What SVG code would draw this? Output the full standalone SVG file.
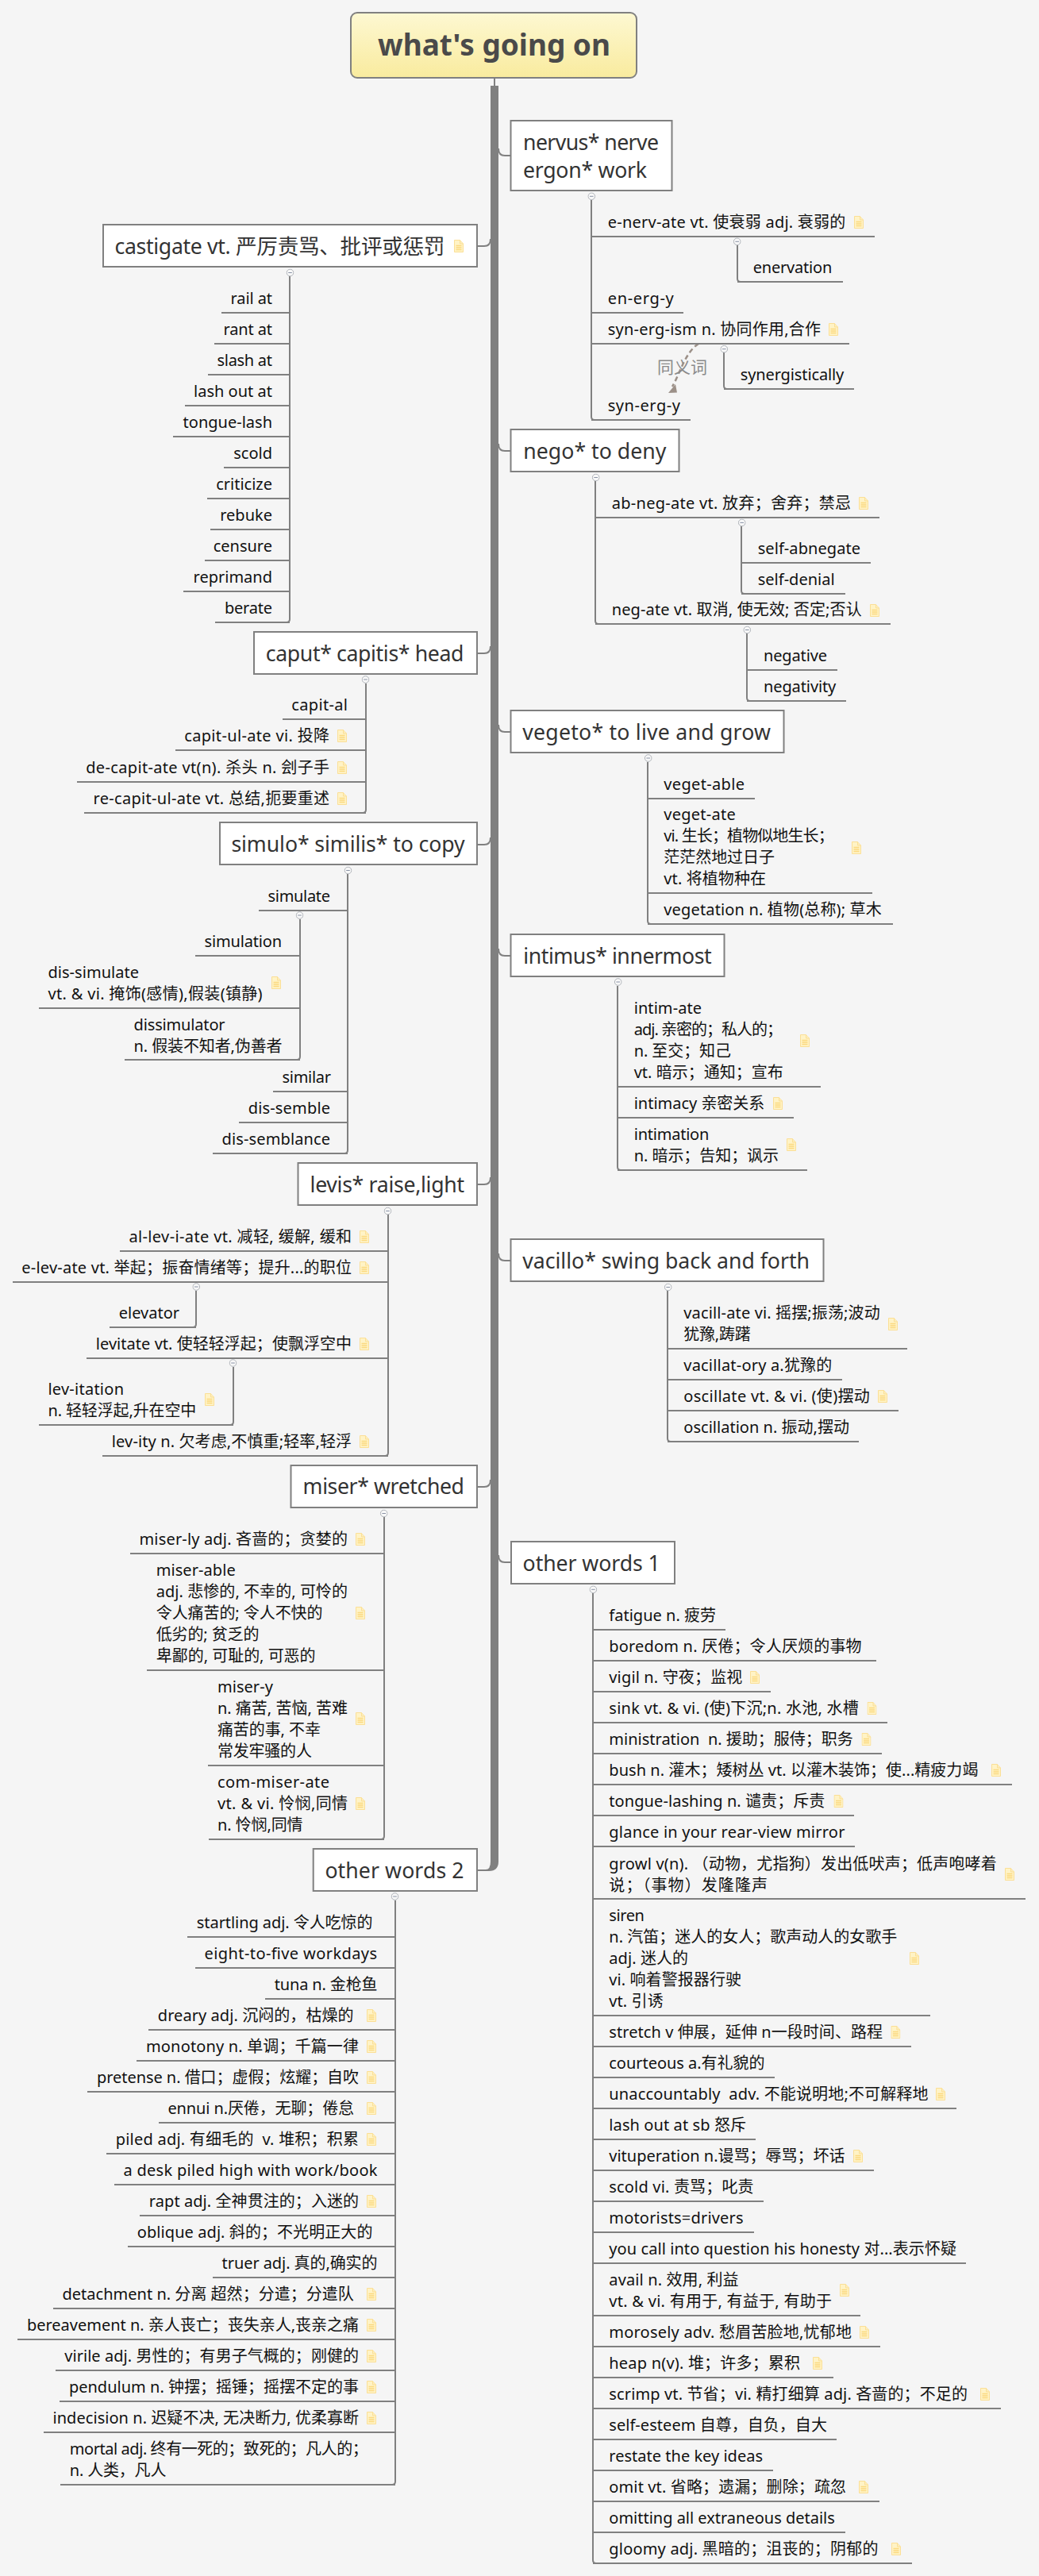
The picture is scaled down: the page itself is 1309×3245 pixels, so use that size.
<svg xmlns="http://www.w3.org/2000/svg" width="1309" height="3245" viewBox="0 0 1309 3245">
<style>
text{font-family:"Noto Sans","Noto Sans CJK SC",sans-serif;white-space:pre}
.s{font-size:20px;fill:#111}
.e{text-anchor:end}
.m{font-size:26.670px;fill:#333}
.r{font-size:37px;font-weight:700;fill:#4a4a4a}
.b{fill:#fff;stroke:#808080;stroke-width:2}
.u{fill:none;stroke:#808080;stroke-width:2}
.l{fill:none;stroke:#808080;stroke-width:2}
.p{fill:#808080}
</style>
<defs>
<linearGradient id="rootFill" x1="0" y1="0" x2="0" y2="1"><stop offset="0" stop-color="#fdf8d2"/><stop offset="1" stop-color="#f9eb9e"/></linearGradient>
<symbol id="note" viewBox="0 0 12 16" width="12" height="16"><path d="M.5 .5H7.5L11.5 5V15.5H.5Z" fill="#fff3c6" stroke="#fbdf96"/><path d="M7.5 .5V5H11.5" fill="#fdeebc" stroke="#fbdf96"/><path d="M2.5 7.5H9.5M2.5 10H9.5M2.5 12.500H9.5" stroke="#fbd980" stroke-width="1.300"/></symbol>
<symbol id="col" viewBox="0 0 10 10" width="10" height="10"><circle cx="5" cy="5" r="4.300" fill="#f8f8f8" stroke="#aeb2b8"/><path d="M2.700 5H7.300" stroke="#8a93a6"/></symbol>
</defs>
<rect width="1309" height="3245" fill="#f5f5f5"/>
<g id="connectors">
<path class="l" d="M623 98V108"/>
<path class="p" d="M618 108H628V2345Q628 2357 616 2357H601V2355H612Q618 2355 618 2345Z"/>
<path class="l" d="M601 310H610Q618 310 618 301"/>
<path class="l" d="M601 823H610Q618 823 618 814"/>
<path class="l" d="M601 1064H610Q618 1064 618 1055"/>
<path class="l" d="M601 1492H610Q618 1492 618 1483"/>
<path class="l" d="M601 1873H610Q618 1873 618 1864"/>
<path class="l" d="M643 196H636Q628 196 628 187"/>
<path class="l" d="M643 568H636Q628 568 628 559"/>
<path class="l" d="M643 922H636Q628 922 628 913"/>
<path class="l" d="M643 1204H636Q628 1204 628 1195"/>
<path class="l" d="M643 1588H636Q628 1588 628 1579"/>
<path class="l" d="M643 1968H636Q628 1968 628 1959"/>
<path class="l" d="M365 348V780Q365 784 361 784"/>
<path class="l" d="M461 861V1020Q461 1024 457 1024"/>
<path class="l" d="M438 1101V1449Q438 1453 434 1453"/>
<path class="l" d="M378 1158V1331Q378 1335 374 1335"/>
<path class="l" d="M489 1530V1830Q489 1834 485 1834"/>
<path class="l" d="M247 1626V1668Q247 1672 243 1672"/>
<path class="l" d="M294 1722V1791Q294 1795 290 1795"/>
<path class="l" d="M484 1911V2313Q484 2317 480 2317"/>
<path class="l" d="M498 2394V3126Q498 3130 494 3130"/>
<path class="l" d="M745 252V525Q745 529 749 529"/>
<path class="l" d="M929 309V351Q929 355 933 355"/>
<path class="l" d="M912 444V486Q912 490 916 490"/>
<path class="l" d="M750 606V782Q750 786 754 786"/>
<path class="l" d="M934 663V744Q934 748 938 748"/>
<path class="l" d="M941 798V879Q941 883 945 883"/>
<path class="l" d="M816 960V1160Q816 1164 820 1164"/>
<path class="l" d="M778 1242V1470Q778 1474 782 1474"/>
<path class="l" d="M841 1626V1812Q841 1816 845 1816"/>
<path class="l" d="M747 2007V3225Q747 3229 751 3229"/>
<use href="#col" x="360.500" y="338.500"/><use href="#col" x="455.500" y="851"/><use href="#col" x="433.500" y="1091.500"/><use href="#col" x="372.500" y="1148"/><use href="#col" x="483.500" y="1520.500"/><use href="#col" x="242.300" y="1616"/><use href="#col" x="288.500" y="1712"/><use href="#col" x="478.700" y="1901.500"/><use href="#col" x="492.500" y="2384"/>
<use href="#col" x="740.300" y="242.300"/><use href="#col" x="923.700" y="299.300"/><use href="#col" x="907.300" y="434.700"/><use href="#col" x="745.700" y="596.500"/><use href="#col" x="929.700" y="653.400"/><use href="#col" x="936.300" y="788.500"/><use href="#col" x="811.700" y="950"/><use href="#col" x="773.700" y="1232"/><use href="#col" x="836.700" y="1616.500"/><use href="#col" x="742.400" y="1997.300"/>
<path d="M880 433C863 444 857 470 847 487" fill="none" stroke="#9c9088" stroke-width="2.500" stroke-dasharray="6 4"/>
<polygon points="842,495 853,494.500 851,484" fill="#9c9088"/>
<text x="828" y="470" style="font-size:21px;fill:#8a8a8a">同义词</text>
</g>
<g id="root"><rect x="442" y="16" width="360" height="82" rx="8" fill="url(#rootFill)" stroke="#808080" stroke-width="2"/><text class="r" x="476" y="70" textLength="293">what's going on</text></g>

<g id="castigate"><rect class="b" x="130" y="283" width="471" height="53"/><text class="m" x="144.500" y="320" textLength="416">castigate vt. 严厉责骂、批评或惩罚</text><use href="#note" x="572" y="302"/></g>
<g id="c1"><path class="u" d="M279 394H365"/><text class="s e" x="343" y="383" textLength="52.500">rail at</text></g>
<g id="c2"><path class="u" d="M270 433H365"/><text class="s e" x="343" y="422" textLength="61.500">rant at</text></g>
<g id="c3"><path class="u" d="M262 472H365"/><text class="s e" x="343" y="461" textLength="69.500">slash at</text></g>
<g id="c4"><path class="u" d="M233 511H365"/><text class="s e" x="343" y="500" textLength="99">lash out at</text></g>
<g id="c5"><path class="u" d="M218 550H365"/><text class="s e" x="343" y="539">tongue-lash</text></g>
<g id="c6"><path class="u" d="M282 589H365"/><text class="s e" x="343" y="578">scold</text></g>
<g id="c7"><path class="u" d="M261 628H365"/><text class="s e" x="343" y="617">criticize</text></g>
<g id="c8"><path class="u" d="M265 667H365"/><text class="s e" x="343" y="656">rebuke</text></g>
<g id="c9"><path class="u" d="M258 706H365"/><text class="s e" x="343" y="695">censure</text></g>
<g id="c10"><path class="u" d="M231 745H365"/><text class="s e" x="343" y="734">reprimand</text></g>
<g id="c11"><path class="u" d="M271 784H365"/><text class="s e" x="343" y="773" textLength="60">berate</text></g>

<g id="caput"><rect class="b" x="320" y="796" width="281" height="53"/><text class="m" x="334.700" y="833" textLength="249.800">caput* capitis* head</text></g>
<g id="ca1"><path class="u" d="M356 906H461"/><text class="s e" x="438" y="895" textLength="70.700">capit-al</text></g>
<g id="ca2"><path class="u" d="M221 945H461"/><text class="s e" x="415" y="934" textLength="182.800">capit-ul-ate vi. 投降</text><use href="#note" x="425" y="919"/></g>
<g id="ca3"><path class="u" d="M97 985H461"/><text class="s e" x="415" y="974" textLength="306.800">de-capit-ate vt(n). 杀头 n. 刽子手</text><use href="#note" x="425" y="959"/></g>
<g id="ca4"><path class="u" d="M106 1024H461"/><text class="s e" x="415" y="1013" textLength="297.400">re-capit-ul-ate vt. 总结,扼要重述</text><use href="#note" x="425" y="998"/></g>

<g id="simulo"><rect class="b" x="277" y="1036" width="324" height="53"/><text class="m" x="291.400" y="1073" textLength="294.300">simulo* similis* to copy</text></g>
<g id="si1"><path class="u" d="M326 1147H438"/><text class="s e" x="416" y="1136" textLength="78.400">simulate</text></g>
<g id="si2"><path class="u" d="M246 1204H378"/><text class="s e" x="355" y="1193" textLength="97.400">simulation</text></g>
<g id="si3"><path class="u" d="M49 1270H378"/><text class="s" x="60.400" y="1232"><tspan textLength="114.700">dis-simulate</tspan><tspan x="60.400" y="1259" textLength="270.200">vt. &amp; vi. 掩饰(感情),假装(镇静)</tspan></text><use href="#note" x="342" y="1230"/></g>
<g id="si4"><path class="u" d="M157 1335H378"/><text class="s" x="168.600" y="1298"><tspan textLength="115">dissimulator</tspan><tspan x="168.600" y="1325" textLength="187">n. 假装不知者,伪善者</tspan></text></g>
<g id="si5"><path class="u" d="M344 1375H438"/><text class="s e" x="417" y="1364" textLength="61.500">similar</text></g>
<g id="si6"><path class="u" d="M301 1414H438"/><text class="s e" x="416" y="1403" textLength="103.300">dis-semble</text></g>
<g id="si7"><path class="u" d="M268 1453H438"/><text class="s e" x="416" y="1442" textLength="136.400">dis-semblance</text></g>

<g id="levis"><rect class="b" x="375.500" y="1465" width="225.500" height="53"/><text class="m" x="390.600" y="1502" textLength="194.400">levis* raise,light</text></g>
<g id="le1"><path class="u" d="M151 1576H489"/><text class="s e" x="443" y="1565" textLength="280.600">al-lev-i-ate vt. 减轻, 缓解, 缓和</text><use href="#note" x="453" y="1550"/></g>
<g id="le2"><path class="u" d="M16 1615H489"/><text class="s e" x="443" y="1604" textLength="415.700">e-lev-ate vt. 举起；振奋情绪等；提升...的职位</text><use href="#note" x="453" y="1589"/></g>
<g id="le3"><path class="u" d="M138 1672H247"/><text class="s e" x="226" y="1661" textLength="76.300">elevator</text></g>
<g id="le4"><path class="u" d="M109 1711H489"/><text class="s e" x="443" y="1700" textLength="322.200">levitate vt. 使轻轻浮起；使飘浮空中</text><use href="#note" x="453" y="1685"/></g>
<g id="le5"><path class="u" d="M49 1795H294"/><text class="s" x="60.400" y="1757"><tspan textLength="95.600">lev-itation</tspan><tspan x="60.400" y="1784" textLength="186.900">n. 轻轻浮起,升在空中</tspan></text><use href="#note" x="258" y="1755"/></g>
<g id="le6"><path class="u" d="M129 1834H489"/><text class="s e" x="443" y="1823" textLength="302.200">lev-ity n. 欠考虑,不慎重;轻率,轻浮</text><use href="#note" x="453" y="1808"/></g>

<g id="miser"><rect class="b" x="366.500" y="1846" width="234.500" height="53"/><text class="m" x="381.600" y="1882" textLength="203.400">miser* wretched</text></g>
<g id="mi1"><path class="u" d="M164 1957H484"/><text class="s e" x="438" y="1946" textLength="262.500">miser-ly adj. 吝啬的；贪婪的</text><use href="#note" x="448" y="1931"/></g>
<g id="mi2"><path class="u" d="M185 2104H484"/><text class="s" x="196.700" y="1985"><tspan textLength="100">miser-able</tspan><tspan x="196.700" y="2012" textLength="241.300">adj. 悲惨的, 不幸的, 可怜的</tspan><tspan x="196.700" y="2039" textLength="209.800">令人痛苦的; 令人不快的</tspan><tspan x="196.700" y="2066" textLength="129.800">低劣的; 贫乏的</tspan><tspan x="196.700" y="2093" textLength="200.900">卑鄙的, 可耻的, 可恶的</tspan></text><use href="#note" x="448" y="2024"/></g>
<g id="mi3"><path class="u" d="M262 2224H484"/><text class="s" x="273.900" y="2132"><tspan textLength="70">miser-y</tspan><tspan x="273.900" y="2159" textLength="164.100">n. 痛苦, 苦恼, 苦难</tspan><tspan x="273.900" y="2186" textLength="130">痛苦的事, 不幸</tspan><tspan x="273.900" y="2213" textLength="119">常发牢骚的人</tspan></text><use href="#note" x="448" y="2157"/></g>
<g id="mi4"><path class="u" d="M263 2317H484"/><text class="s" x="274" y="2252"><tspan textLength="141">com-miser-ate</tspan><tspan x="274" y="2279" textLength="164">vt. &amp; vi. 怜悯,同情</tspan><tspan x="274" y="2306" textLength="107.600">n. 怜悯,同情</tspan></text><use href="#note" x="448" y="2264"/></g>

<g id="other2"><rect class="b" x="394.700" y="2329" width="206.300" height="53"/><text class="m" x="409.400" y="2366" textLength="175.100">other words 2</text></g>
<g id="o2-1"><path class="u" d="M236 2440H498"/><text class="s e" x="469.400" y="2429" textLength="221.600">startling adj. 令人吃惊的</text></g>
<g id="o2-2"><path class="u" d="M246 2479H498"/><text class="s e" x="475" y="2468" textLength="217.400">eight-to-five workdays</text></g>
<g id="o2-3"><path class="u" d="M334 2518H498"/><text class="s e" x="475.500" y="2507" textLength="129.800">tuna n. 金枪鱼</text></g>
<g id="o2-4"><path class="u" d="M187 2557H498"/><text class="s e" x="445.500" y="2546" textLength="246.700">dreary adj. 沉闷的，枯燥的</text><use href="#note" x="462" y="2531"/></g>
<g id="o2-5"><path class="u" d="M172 2596H498"/><text class="s e" x="452" y="2585" textLength="268">monotony n. 单调；千篇一律</text><use href="#note" x="462" y="2570"/></g>
<g id="o2-6"><path class="u" d="M110 2635H498"/><text class="s e" x="452" y="2624" textLength="330">pretense n. 借口；虚假；炫耀；自吹</text><use href="#note" x="462" y="2609"/></g>
<g id="o2-7"><path class="u" d="M200 2674H498"/><text class="s e" x="446" y="2663" textLength="234.600">ennui n.厌倦，无聊；倦怠</text><use href="#note" x="462" y="2648"/></g>
<g id="o2-8"><path class="u" d="M134 2713H498"/><text class="s e" x="452" y="2702" textLength="306.300">piled adj. 有细毛的  v. 堆积；积累</text><use href="#note" x="462" y="2687"/></g>
<g id="o2-9"><path class="u" d="M144 2752H498"/><text class="s e" x="475.500" y="2741" textLength="320">a desk piled high with work/book</text></g>
<g id="o2-10"><path class="u" d="M176 2791H498"/><text class="s e" x="452" y="2780" textLength="264.200">rapt adj. 全神贯注的；入迷的</text><use href="#note" x="462" y="2765"/></g>
<g id="o2-11"><path class="u" d="M161 2830H498"/><text class="s e" x="469.400" y="2819" textLength="296.700">oblique adj. 斜的；不光明正大的</text></g>
<g id="o2-12"><path class="u" d="M268 2869H498"/><text class="s e" x="475.500" y="2858" textLength="195.900">truer adj. 真的,确实的</text></g>
<g id="o2-13"><path class="u" d="M67 2908H498"/><text class="s e" x="445.700" y="2897" textLength="367.300">detachment n. 分离 超然；分遣；分遣队</text><use href="#note" x="462" y="2882"/></g>
<g id="o2-14"><path class="u" d="M22 2947H498"/><text class="s e" x="452" y="2936" textLength="418.100">bereavement n. 亲人丧亡；丧失亲人,丧亲之痛</text><use href="#note" x="462" y="2921"/></g>
<g id="o2-15"><path class="u" d="M70 2986H498"/><text class="s e" x="452" y="2975" textLength="370.800">virile adj. 男性的；有男子气概的；刚健的</text><use href="#note" x="462" y="2960"/></g>
<g id="o2-16"><path class="u" d="M75 3025H498"/><text class="s e" x="452" y="3014" textLength="365.100">pendulum n. 钟摆；摇锤；摇摆不定的事</text><use href="#note" x="462" y="2999"/></g>
<g id="o2-17"><path class="u" d="M55 3064H498"/><text class="s e" x="452" y="3053" textLength="385.500">indecision n. 迟疑不决, 无决断力, 优柔寡断</text><use href="#note" x="462" y="3038"/></g>
<g id="o2-18"><path class="u" d="M76 3130H498"/><text class="s" x="87.800" y="3092"><tspan textLength="375.900">mortal adj. 终有一死的；致死的；凡人的；</tspan><tspan x="87.800" y="3119" textLength="121.600">n. 人类，凡人</tspan></text></g>

<g id="nervus"><rect class="b" x="643.500" y="152" width="203" height="88"/><text class="m" x="659" y="189"><tspan textLength="171">nervus* nerve</tspan><tspan x="659" y="224" textLength="156">ergon* work</tspan></text></g>
<g id="ne1"><path class="u" d="M745 298H1102"/><text class="s" x="765.700" y="287" textLength="299.600">e-nerv-ate vt. 使衰弱 adj. 衰弱的</text><use href="#note" x="1076" y="272"/></g>
<g id="ne2"><path class="u" d="M929 355H1062"/><text class="s" x="948.700" y="344" textLength="99.600">enervation</text></g>
<g id="ne3"><path class="u" d="M745 394H861"/><text class="s" x="765.700" y="383" textLength="83">en-erg-y</text></g>
<g id="ne4"><path class="u" d="M745 433H1070"/><text class="s" x="765.700" y="422" textLength="268.300">syn-erg-ism n. 协同作用,合作</text><use href="#note" x="1044" y="407"/></g>
<g id="ne5"><path class="u" d="M912 490H1076"/><text class="s" x="932.700" y="479" textLength="130.600">synergistically</text></g>
<g id="ne6"><path class="u" d="M745 529H870"/><text class="s" x="765.700" y="518" textLength="91.300">syn-erg-y</text></g>

<g id="nego"><rect class="b" x="643.500" y="541" width="212" height="53"/><text class="m" x="659.300" y="578" textLength="180">nego* to deny</text></g>
<g id="ng1"><path class="u" d="M750 652H1108"/><text class="s" x="770.700" y="641" textLength="301.300">ab-neg-ate vt. 放弃；舍弃；禁忌</text><use href="#note" x="1082" y="626"/></g>
<g id="ng2"><path class="u" d="M934 709H1097"/><text class="s" x="954.700" y="698" textLength="129.300">self-abnegate</text></g>
<g id="ng3"><path class="u" d="M934 748H1065"/><text class="s" x="954.700" y="737" textLength="97">self-denial</text></g>
<g id="ng4"><path class="u" d="M750 786H1122"/><text class="s" x="770.700" y="775" textLength="315">neg-ate vt. 取消, 使无效; 否定;否认</text><use href="#note" x="1096" y="761"/></g>
<g id="ng5"><path class="u" d="M941 844H1055"/><text class="s" x="962" y="833" textLength="80">negative</text></g>
<g id="ng6"><path class="u" d="M941 883H1066"/><text class="s" x="962" y="872" textLength="91.300">negativity</text></g>

<g id="vegeto"><rect class="b" x="643.500" y="895" width="344" height="53"/><text class="m" x="658.300" y="932" textLength="312.700">vegeto* to live and grow</text></g>
<g id="ve1"><path class="u" d="M816 1006H951"/><text class="s" x="836.300" y="995" textLength="101.700">veget-able</text></g>
<g id="ve2"><path class="u" d="M816 1125H1099"/><text class="s" x="836.300" y="1033"><tspan textLength="90.400">veget-ate</tspan><tspan x="836.300" y="1060" textLength="214.400">vi. 生长；植物似地生长；</tspan><tspan x="836.300" y="1087" textLength="139.700">茫茫然地过日子</tspan><tspan x="836.300" y="1114" textLength="128.700">vt. 将植物种在</tspan></text><use href="#note" x="1073" y="1060"/></g>
<g id="ve3"><path class="u" d="M816 1164H1125"/><text class="s" x="836.300" y="1153" textLength="274.400">vegetation n. 植物(总称); 草木</text></g>

<g id="intimus"><rect class="b" x="643.500" y="1177" width="269" height="53"/><text class="m" x="659.300" y="1214" textLength="237.400">intimus* innermost</text></g>
<g id="in1"><path class="u" d="M778 1369H1034"/><text class="s" x="798.700" y="1277"><tspan textLength="85.300">intim-ate</tspan><tspan x="798.700" y="1304" textLength="187.300">adj. 亲密的；私人的；</tspan><tspan x="798.700" y="1331" textLength="122.300">n. 至交；知己</tspan><tspan x="798.700" y="1358" textLength="188">vt. 暗示；通知；宣布</tspan></text><use href="#note" x="1008" y="1303"/></g>
<g id="in2"><path class="u" d="M778 1408H1000"/><text class="s" x="798.700" y="1397" textLength="164.600">intimacy 亲密关系</text><use href="#note" x="974" y="1382"/></g>
<g id="in3"><path class="u" d="M778 1474H1017"/><text class="s" x="798.700" y="1436"><tspan textLength="94.600">intimation</tspan><tspan x="798.700" y="1463" textLength="182.300">n. 暗示；告知；讽示</tspan></text><use href="#note" x="991" y="1434"/></g>

<g id="vacillo"><rect class="b" x="643.500" y="1561" width="394" height="53"/><text class="m" x="658.300" y="1598" textLength="361.700">vacillo* swing back and forth</text></g>
<g id="va1"><path class="u" d="M841 1699H1143"/><text class="s" x="861.300" y="1661"><tspan textLength="247.400">vacill-ate vi. 摇摆;振荡;波动</tspan><tspan x="861.300" y="1688" textLength="84.400">犹豫,踌躇</tspan></text><use href="#note" x="1119" y="1660"/></g>
<g id="va2"><path class="u" d="M841 1738H1061"/><text class="s" x="861.300" y="1727" textLength="187">vacillat-ory a.犹豫的</text></g>
<g id="va3"><path class="u" d="M841 1777H1132"/><text class="s" x="861.300" y="1766" textLength="234.400">oscillate vt. &amp; vi. (使)摆动</text><use href="#note" x="1106" y="1751"/></g>
<g id="va4"><path class="u" d="M841 1816H1082"/><text class="s" x="861.300" y="1805" textLength="208.700">oscillation n. 振动,摆动</text></g>

<g id="other1"><rect class="b" x="644" y="1942" width="206" height="53"/><text class="m" x="658.600" y="1979" textLength="173.200">other words 1</text></g>
<g id="o1-1"><path class="u" d="M747 2053H914"/><text class="s" x="767.300" y="2042" textLength="134.700">fatigue n. 疲劳</text></g>
<g id="o1-2"><path class="u" d="M747 2092H1104"/><text class="s" x="767.300" y="2081" textLength="318.300">boredom n. 厌倦；令人厌烦的事物</text></g>
<g id="o1-3"><path class="u" d="M747 2131H971"/><text class="s" x="767.300" y="2120" textLength="168">vigil n. 守夜；监视</text><use href="#note" x="945" y="2105"/></g>
<g id="o1-4"><path class="u" d="M747 2170H1118"/><text class="s" x="767.300" y="2159" textLength="314.400">sink vt. &amp; vi. (使)下沉;n. 水池, 水槽</text><use href="#note" x="1092.500" y="2144"/></g>
<g id="o1-5"><path class="u" d="M747 2209H1111"/><text class="s" x="767.300" y="2198" textLength="307.500">ministration  n. 援助；服侍；职务</text><use href="#note" x="1085.500" y="2183"/></g>
<g id="o1-6"><path class="u" d="M747 2248H1275"/><text class="s" x="767.300" y="2237" textLength="465.100">bush n. 灌木；矮树丛 vt. 以灌木装饰；使...精疲力竭</text><use href="#note" x="1249" y="2222"/></g>
<g id="o1-7"><path class="u" d="M747 2287H1076"/><text class="s" x="767.300" y="2276" textLength="272">tongue-lashing n. 谴责；斥责</text><use href="#note" x="1050.500" y="2261"/></g>
<g id="o1-8"><path class="u" d="M747 2326H1077"/><text class="s" x="767.300" y="2315" textLength="297.100">glance in your rear-view mirror</text></g>
<g id="o1-9"><path class="u" d="M747 2392H1292"/><text class="s" x="767.300" y="2355"><tspan textLength="488.500">growl v(n). （动物，尤指狗）发出低吠声；低声咆哮着</tspan><tspan x="767.300" y="2382" textLength="199.700">说；（事物）发隆隆声</tspan></text><use href="#note" x="1266" y="2353"/></g>
<g id="o1-10"><path class="u" d="M747 2539H1172"/><text class="s" x="767.300" y="2420"><tspan textLength="44.600">siren</tspan><tspan x="767.300" y="2447" textLength="362.900">n. 汽笛；迷人的女人；歌声动人的女歌手</tspan><tspan x="767.300" y="2474" textLength="99.700">adj. 迷人的</tspan><tspan x="767.300" y="2501" textLength="166.700">vi. 响着警报器行驶</tspan><tspan x="767.300" y="2528" textLength="68.400">vt. 引诱</tspan></text><use href="#note" x="1146" y="2459"/></g>
<g id="o1-11"><path class="u" d="M747 2578H1148"/><text class="s" x="767.300" y="2567" textLength="344.700">stretch v 伸展，延伸 n一段时间、路程</text><use href="#note" x="1122.400" y="2552"/></g>
<g id="o1-12"><path class="u" d="M747 2617H976"/><text class="s" x="767.300" y="2606" textLength="196.200">courteous a.有礼貌的</text></g>
<g id="o1-13"><path class="u" d="M747 2656H1205"/><text class="s" x="767.300" y="2645" textLength="402.300">unaccountably  adv. 不能说明地;不可解释地</text><use href="#note" x="1179" y="2630"/></g>
<g id="o1-14"><path class="u" d="M747 2695H952"/><text class="s" x="767.300" y="2684" textLength="172.700">lash out at sb 怒斥</text></g>
<g id="o1-15"><path class="u" d="M747 2734H1101"/><text class="s" x="767.300" y="2723" textLength="297.100">vituperation n.谩骂；辱骂；坏话</text><use href="#note" x="1075" y="2708"/></g>
<g id="o1-16"><path class="u" d="M747 2773H962"/><text class="s" x="767.300" y="2762" textLength="182.300">scold vi. 责骂；叱责</text></g>
<g id="o1-17"><path class="u" d="M747 2812H950"/><text class="s" x="767.300" y="2801" textLength="169.300">motorists=drivers</text></g>
<g id="o1-18"><path class="u" d="M747 2851H1217"/><text class="s" x="767.300" y="2840" textLength="437.700">you call into question his honesty 对...表示怀疑</text></g>
<g id="o1-19"><path class="u" d="M747 2917H1084"/><text class="s" x="767.300" y="2879"><tspan textLength="163.300">avail n. 效用, 利益</tspan><tspan x="767.300" y="2906" textLength="280.700">vt. &amp; vi. 有用于, 有益于, 有助于</tspan></text><use href="#note" x="1058" y="2877"/></g>
<g id="o1-20"><path class="u" d="M747 2956H1109"/><text class="s" x="767.300" y="2945" textLength="305.700">morosely adv. 愁眉苦脸地,忧郁地</text><use href="#note" x="1083" y="2930"/></g>
<g id="o1-21"><path class="u" d="M747 2995H1050"/><text class="s" x="767.300" y="2984" textLength="240.700">heap n(v). 堆；许多；累积</text><use href="#note" x="1024" y="2969"/></g>
<g id="o1-22"><path class="u" d="M747 3034H1261"/><text class="s" x="767.300" y="3023" textLength="451.700">scrimp vt. 节省；vi. 精打细算 adj. 吝啬的；不足的</text><use href="#note" x="1235" y="3008"/></g>
<g id="o1-23"><path class="u" d="M747 3073H1054"/><text class="s" x="767.300" y="3062" textLength="274.600">self-esteem 自尊，自负，自大</text></g>
<g id="o1-24"><path class="u" d="M747 3112H974"/><text class="s" x="767.300" y="3101" textLength="193.700">restate the key ideas</text></g>
<g id="o1-25"><path class="u" d="M747 3151H1108"/><text class="s" x="767.300" y="3140" textLength="298.700">omit vt. 省略；遗漏；删除；疏忽</text><use href="#note" x="1082" y="3125"/></g>
<g id="o1-26"><path class="u" d="M747 3190H1065"/><text class="s" x="767.300" y="3179" textLength="284.500">omitting all extraneous details</text></g>
<g id="o1-27"><path class="u" d="M747 3229H1149"/><text class="s" x="767.300" y="3218" textLength="339.100">gloomy adj. 黑暗的；沮丧的；阴郁的</text><use href="#note" x="1123" y="3203"/></g>
</svg>
